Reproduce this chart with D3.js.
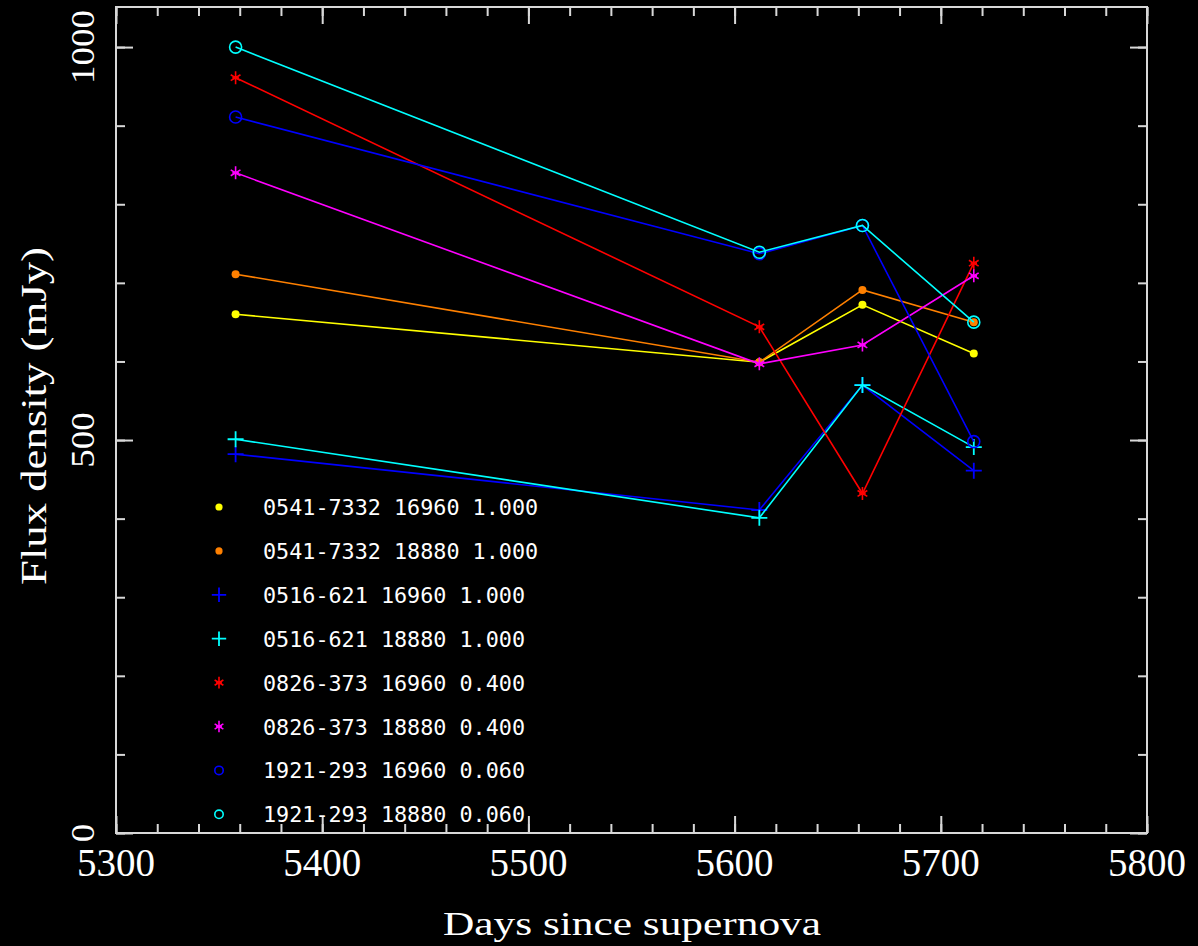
<!DOCTYPE html>
<html>
<head>
<meta charset="utf-8">
<script src="https://cdn.jsdelivr.net/npm/d3@7"></script>
<style>
  html, body { margin: 0; padding: 0; background: #000; }
  svg { display: block; }
</style>
</head>
<body>
<div id="chart"></div>
<script>
// Epochs (days since supernova)
const days = [5358, 5612, 5662, 5716];

// Flux density per calibrator / frequency (mJy)
const seriesNames = [
    "0541-7332 16960 1.000",
    "0541-7332 18880 1.000",
    "0516-621 16960 1.000",
    "0516-621 18880 1.000",
    "0826-373 16960 0.400",
    "0826-373 18880 0.400",
    "1921-293 16960 0.060",
    "1921-293 18880 0.060"
];
const flux_0541_16960 = [660, 599, 672, 610];
const flux_0541_18880 = [711, 599, 691, 650];
const flux_0516_16960 = [482, 411, 570, 461];
const flux_0516_18880 = [501, 401, 570, 491];
const flux_0826_16960 = [961, 644, 432, 725];
const flux_0826_18880 = [840, 597, 621, 709];
const flux_1921_16960 = [911, 737, 773, 498];
const flux_1921_18880 = [1000, 739, 773, 650];

const seriesColors  = ["#ffff00", "#ff8000", "#0000ff", "#00ffff", "#ff0000", "#ff00ff", "#0000ff", "#00ffff"];
const seriesSymbols = ["dot", "dot", "plus", "plus", "star", "star", "ring", "ring"];

const xTicks = [5300, 5400, 5500, 5600, 5700, 5800];
const yTicks = [0, 500, 1000];

const series = [
    flux_0541_16960, flux_0541_18880, flux_0516_16960, flux_0516_18880,
    flux_0826_16960, flux_0826_18880, flux_1921_16960, flux_1921_18880
].map((vals, i) => ({
    name: seriesNames[i],
    color: seriesColors[i],
    symbol: seriesSymbols[i],
    points: vals.map((v, j) => ({ day: days[j], flux: v }))
}));

const width = 1198, height = 946;
const margin = { top: 7, right: 51, bottom: 113, left: 116 };
const innerW = width - margin.left - margin.right;
const innerH = height - margin.top - margin.bottom;
const axisColor = "#d8d8d8";
const serif = "'Liberation Serif', 'DejaVu Serif', serif";

const svg = d3.select("#chart").append("svg")
    .attr("width", width).attr("height", height)
    .style("background", "#000");

const g = svg.append("g").attr("transform", `translate(${margin.left},${margin.top})`);

const x = d3.scaleLinear().domain([5300, 5800]).range([0, innerW]);
const y = d3.scaleLinear().domain([0, 1051]).range([innerH, 0]);

// Minor / major ticks on all four sides, pointing inward
function tickAxis(axisFn, scale, values, size, transform) {
    const a = g.append("g")
        .attr("transform", transform || null)
        .call(axisFn(scale).tickValues(values).tickSize(size).tickFormat(""));
    a.select(".domain").remove();
    a.selectAll("line").attr("stroke", axisColor).attr("stroke-width", 2);
    return a;
}
const xMinor = d3.range(5300, 5801, 20);
const yMinor = d3.range(0, 1051, 100);
tickAxis(d3.axisBottom, x, xMinor, -9, `translate(0,${innerH})`);
tickAxis(d3.axisBottom, x, xTicks, -17, `translate(0,${innerH})`);
tickAxis(d3.axisTop, x, xMinor, -9);
tickAxis(d3.axisTop, x, xTicks, -17);
tickAxis(d3.axisLeft, y, yMinor, -9);
tickAxis(d3.axisLeft, y, yTicks, -17);
tickAxis(d3.axisRight, y, yMinor, -9, `translate(${innerW},0)`);
tickAxis(d3.axisRight, y, yTicks, -17, `translate(${innerW},0)`);

// Frame
g.append("rect")
    .attr("x", 0).attr("y", 0)
    .attr("width", innerW).attr("height", innerH)
    .attr("fill", "none")
    .attr("stroke", axisColor).attr("stroke-width", 2);

// X tick labels
g.selectAll(".xlab").data(xTicks).enter()
    .append("text").attr("class", "xlab")
    .attr("x", d => x(d))
    .attr("y", innerH + 43)
    .attr("text-anchor", "middle")
    .attr("fill", "#fff")
    .attr("font-family", serif)
    .attr("font-size", 40)
    .attr("textLength", 78)
    .attr("lengthAdjust", "spacingAndGlyphs")
    .text(d => d);

// Y tick labels (rotated)
g.selectAll(".ylab").data(yTicks).enter()
    .append("text").attr("class", "ylab")
    .attr("transform", d => `translate(-22,${y(d)}) rotate(-90)`)
    .attr("text-anchor", "middle")
    .attr("fill", "#fff")
    .attr("font-family", serif)
    .attr("font-size", 34)
    .attr("textLength", d => String(d).length * 18.5)
    .attr("lengthAdjust", "spacingAndGlyphs")
    .text(d => d);

// Axis titles
svg.append("text")
    .attr("x", 632)
    .attr("y", 935)
    .attr("text-anchor", "middle")
    .attr("fill", "#fff")
    .attr("font-family", serif)
    .attr("font-size", 34)
    .attr("textLength", 378)
    .attr("lengthAdjust", "spacingAndGlyphs")
    .text("Days since supernova");

svg.append("text")
    .attr("transform", `translate(46,${margin.top + innerH / 2 - 4}) rotate(-90)`)
    .attr("text-anchor", "middle")
    .attr("fill", "#fff")
    .attr("font-family", serif)
    .attr("font-size", 36)
    .attr("textLength", 338)
    .attr("lengthAdjust", "spacingAndGlyphs")
    .text("Flux density (mJy)");

// Symbols
function drawSymbol(sel, symbol, color, s) {
    s = s || 1;
    if (symbol === "dot") {
        sel.append("circle").attr("r", 4 * s).attr("fill", color);
    } else if (symbol === "ring") {
        sel.append("circle").attr("r", 6 * s).attr("fill", "none")
            .attr("stroke", color).attr("stroke-width", 1.6);
    } else if (symbol === "plus") {
        const r = 8 * s;
        sel.append("path").attr("d", `M${-r},0H${r}M0,${-r}V${r}`)
            .attr("stroke", color).attr("stroke-width", 1.8).attr("fill", "none");
    } else if (symbol === "star") {
        const r = 6.5 * s, d = r * 0.75;
        sel.append("path")
            .attr("d", `M0,${-r}V${r}M${-d},${-d * 0.6}L${d},${d * 0.6}M${-d},${d * 0.6}L${d},${-d * 0.6}M${-r * 0.5},0H${r * 0.5}`)
            .attr("stroke", color).attr("stroke-width", 1.6).attr("fill", "none");
    }
}

const line = d3.line().x(d => x(d.day)).y(d => y(d.flux));

series.forEach(s => {
    g.append("path")
        .datum(s.points)
        .attr("d", line)
        .attr("fill", "none")
        .attr("stroke", s.color)
        .attr("stroke-width", 1.6);
    g.selectAll(null).data(s.points).enter()
        .append("g")
        .attr("transform", d => `translate(${x(d.day)},${y(d.flux)})`)
        .each(function () { drawSymbol(d3.select(this), s.symbol, s.color); });
});

// Legend
const legend = svg.append("g").attr("transform", "translate(219,507)");
series.forEach((s, i) => {
    const row = legend.append("g").attr("transform", `translate(0,${i * 43.9})`);
    drawSymbol(row, s.symbol, s.color, s.symbol === "ring" ? 0.7 : 0.9);
    row.append("text")
        .attr("x", 44).attr("y", 8)
        .attr("fill", "#fff")
        .attr("font-family", "'DejaVu Sans Mono', 'Liberation Mono', monospace")
        .attr("font-size", 21)
        .attr("textLength", s.name.length * 13.1)
        .attr("lengthAdjust", "spacingAndGlyphs")
        .text(s.name);
});
</script>
</body>
</html>
